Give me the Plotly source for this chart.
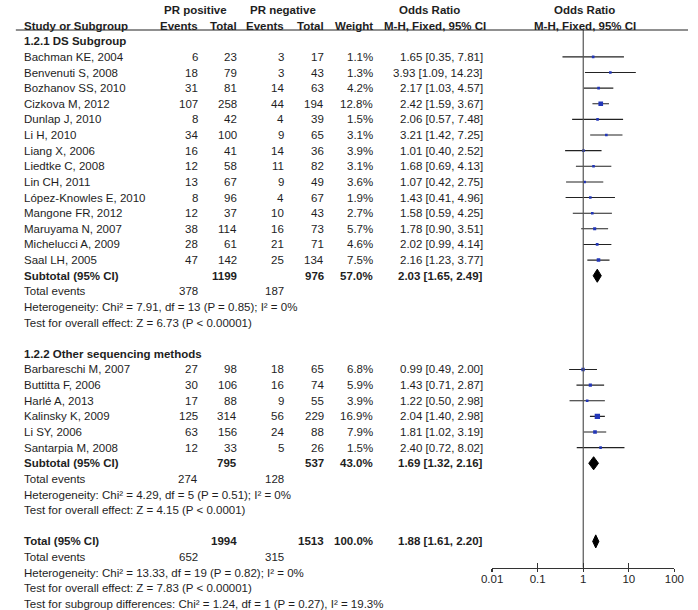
import plotly.graph_objects as go

W, H = 698, 610
ROW_PX = 15.63
TOP_PX = 10

# ---------------- data ----------------
names1 = ["Bachman KE, 2004", "Benvenuti S, 2008", "Bozhanov SS, 2010", "Cizkova M, 2012",
          "Dunlap J, 2010", "Li H, 2010", "Liang X, 2006", "Liedtke C, 2008", "Lin CH, 2011",
          "López-Knowles E, 2010", "Mangone FR, 2012", "Maruyama N, 2007",
          "Michelucci A, 2009", "Saal LH, 2005"]
pos_events1 = [6, 18, 31, 107, 8, 34, 16, 12, 13, 8, 12, 38, 28, 47]
pos_total1 = [23, 79, 81, 258, 42, 100, 41, 58, 67, 96, 37, 114, 61, 142]
neg_events1 = [3, 3, 14, 44, 4, 9, 14, 11, 9, 4, 10, 16, 21, 25]
neg_total1 = [17, 43, 63, 194, 39, 65, 36, 82, 49, 67, 43, 73, 71, 134]
weight1 = [1.1, 1.3, 4.2, 12.8, 1.5, 3.1, 3.9, 3.1, 3.6, 1.9, 2.7, 5.7, 4.6, 7.5]
or1 = [1.65, 3.93, 2.17, 2.42, 2.06, 3.21, 1.01, 1.68, 1.07, 1.43, 1.58, 1.78, 2.02, 2.16]
lo1 = [0.35, 1.09, 1.03, 1.59, 0.57, 1.42, 0.40, 0.69, 0.42, 0.41, 0.59, 0.90, 0.99, 1.23]
hi1 = [7.81, 14.23, 4.57, 3.67, 7.48, 7.25, 2.52, 4.13, 2.75, 4.96, 4.25, 3.51, 4.14, 3.77]

names2 = ["Barbareschi M, 2007", "Buttitta F, 2006", "Harlé A, 2013", "Kalinsky K, 2009",
          "Li SY, 2006", "Santarpia M, 2008"]
pos_events2 = [27, 30, 17, 125, 63, 12]
pos_total2 = [98, 106, 88, 314, 156, 33]
neg_events2 = [18, 16, 9, 56, 24, 5]
neg_total2 = [65, 74, 55, 229, 88, 26]
weight2 = [6.8, 5.9, 3.9, 16.9, 7.9, 1.5]
or2 = [0.99, 1.43, 1.22, 2.04, 1.81, 2.40]
lo2 = [0.49, 0.71, 0.50, 1.40, 1.02, 0.72]
hi2 = [2.00, 2.87, 2.98, 2.98, 3.19, 8.02]

group_titles = ["1.2.1 DS Subgroup", "1.2.2 Other sequencing methods"]
sub_pos_total = [1199, 795]
sub_neg_total = [976, 537]
sub_weight = [57.0, 43.0]
sub_or = [2.03, 1.69]
sub_lo = [1.65, 1.32]
sub_hi = [2.49, 2.16]
sub_pos_events = [378, 274]
sub_neg_events = [187, 128]
sub_het = ["Heterogeneity: Chi² = 7.91, df = 13 (P = 0.85); I² = 0%",
           "Heterogeneity: Chi² = 4.29, df = 5 (P = 0.51); I² = 0%"]
sub_test = ["Test for overall effect: Z = 6.73 (P < 0.00001)",
            "Test for overall effect: Z = 4.15 (P < 0.0001)"]

tot_pos_total, tot_neg_total, tot_weight = 1994, 1513, 100.0
tot_or, tot_lo, tot_hi = 1.88, 1.61, 2.20
tot_pos_events, tot_neg_events = 652, 315
tot_het = "Heterogeneity: Chi² = 13.33, df = 19 (P = 0.82); I² = 0%"
tot_test = "Test for overall effect: Z = 7.83 (P < 0.00001)"
sub_diff = "Test for subgroup differences: Chi² = 1.24, df = 1 (P = 0.27), I² = 19.3%"

tick_vals = [0.01, 0.1, 1, 10, 100]
tick_text = ["0.01", "0.1", "1", "10", "100"]

# ---------------- layout constants ----------------
FONT = "Liberation Sans, Arial, Helvetica, sans-serif"
FS = 11.5
TXT = "#1e1e1e"
BLUE = "#2236b8"
X_NAME = 13
X_PE, X_PT, X_NE, X_NT, X_W, X_OR = 193, 233, 281, 323, 373, 487
X_AX0, X_AX1 = 496, 684
AXIS_Y_PX = 567.5
HEAD_LINE_PX = 30


def row_of_px(p):
    return (p - TOP_PX) / ROW_PX


annotations = []


def txt(row, xpx, s, anchor="right", bold=False):
    annotations.append(dict(
        x=xpx / W, xref="paper", y=row, yref="y", text=f"<b>{s}</b>" if bold else s,
        showarrow=False, xanchor=anchor, yanchor="middle",
        font=dict(family=FONT, size=FS, color=TXT), borderpad=0, borderwidth=0))


fig = go.Figure()

# headers
txt(0, 190, "PR positive", "center", True)
txt(0, 280, "PR negative", "center", True)
txt(0, 431, "Odds Ratio", "center", True)
txt(0, 591, "Odds Ratio", "center", True)
txt(1, X_NAME, "Study or Subgroup", "left", True)
for xp, s in [(X_PE, "Events"), (X_PT, "Total"), (X_NE, "Events"), (X_NT, "Total"), (X_W, "Weight")]:
    txt(1, xp, s, "right", True)
txt(1, 437, "M-H, Fixed, 95% CI", "center", True)
txt(1, 592, "M-H, Fixed, 95% CI", "center", True)

groups = [
    (names1, pos_events1, pos_total1, neg_events1, neg_total1, weight1, or1, lo1, hi1),
    (names2, pos_events2, pos_total2, neg_events2, neg_total2, weight2, or2, lo2, hi2),
]


def diamond(row, est, lo, hi):
    h = 0.42
    fig.add_trace(go.Scatter(
        x=[lo, est, hi, est, lo], y=[row, row - h, row, row + h, row],
        mode="lines", fill="toself", fillcolor="black",
        line=dict(color="black", width=1), hoverinfo="skip", showlegend=False))


row = 2
for g, (nm, pe, pt, ne, nt, w, orv, lo, hi) in enumerate(groups):
    txt(row, X_NAME, group_titles[g], "left", True)
    row += 1
    for i in range(len(nm)):
        txt(row, X_NAME, nm[i], "left")
        txt(row, X_PE, str(pe[i]))
        txt(row, X_PT, str(pt[i]))
        txt(row, X_NE, str(ne[i]))
        txt(row, X_NT, str(nt[i]))
        txt(row, X_W, f"{w[i]:.1f}%")
        txt(row, X_OR, f"{orv[i]:.2f} [{lo[i]:.2f}, {hi[i]:.2f}]")
        fig.add_trace(go.Scatter(
            x=[lo[i], hi[i]], y=[row, row], mode="lines",
            line=dict(color="#222", width=1.1), hoverinfo="skip", showlegend=False))
        fig.add_trace(go.Scatter(
            x=[orv[i]], y=[row], mode="markers",
            marker=dict(symbol="square", color=BLUE,
                        size=max(2.6, 1.3 * w[i] ** 0.5), line=dict(width=0)),
            hoverinfo="skip", showlegend=False))
        row += 1
    txt(row, X_NAME, "Subtotal (95% CI)", "left", True)
    txt(row, X_PT, str(sub_pos_total[g]), bold=True)
    txt(row, X_NT, str(sub_neg_total[g]), bold=True)
    txt(row, X_W, f"{sub_weight[g]:.1f}%", bold=True)
    txt(row, X_OR, f"{sub_or[g]:.2f} [{sub_lo[g]:.2f}, {sub_hi[g]:.2f}]", bold=True)
    diamond(row, sub_or[g], sub_lo[g], sub_hi[g])
    row += 1
    txt(row, X_NAME, "Total events", "left")
    txt(row, X_PE, str(sub_pos_events[g]))
    txt(row, X_NE, str(sub_neg_events[g]))
    row += 1
    txt(row, X_NAME, sub_het[g], "left")
    row += 1
    txt(row, X_NAME, sub_test[g], "left")
    row += 2

txt(row, X_NAME, "Total (95% CI)", "left", True)
txt(row, X_PT, str(tot_pos_total), bold=True)
txt(row, X_NT, str(tot_neg_total), bold=True)
txt(row, X_W, f"{tot_weight:.1f}%", bold=True)
txt(row, X_OR, f"{tot_or:.2f} [{tot_lo:.2f}, {tot_hi:.2f}]", bold=True)
diamond(row, tot_or, tot_lo, tot_hi)
row += 1
txt(row, X_NAME, "Total events", "left")
txt(row, X_PE, str(tot_pos_events))
txt(row, X_NE, str(tot_neg_events))
row += 1
txt(row, X_NAME, tot_het, "left")
row += 1
txt(row, X_NAME, tot_test, "left")
row += 1
txt(row, X_NAME, sub_diff, "left")

# vertical line of no effect (on overlay axis, same scale)
fig.add_trace(go.Scatter(
    x=[1, 1], y=[row_of_px(HEAD_LINE_PX), row_of_px(AXIS_Y_PX)], mode="lines",
    line=dict(color="#555", width=1.2), hoverinfo="skip", showlegend=False,
    xaxis="x2", yaxis="y"))

axis_pos = 1 - AXIS_Y_PX / H
dom = [X_AX0 / W, X_AX1 / W]
fig.update_layout(
    width=W, height=H, margin=dict(l=0, r=0, t=0, b=0),
    paper_bgcolor="white", plot_bgcolor="white",
    annotations=annotations,
    shapes=[dict(type="line", xref="paper", yref="y", x0=5 / W, x1=1,
                 y0=row_of_px(HEAD_LINE_PX), y1=row_of_px(HEAD_LINE_PX),
                 line=dict(color="#222", width=1.2))],
    xaxis=dict(type="log", range=[-2, 2], domain=dom, anchor="free", position=axis_pos,
               showline=True, linecolor="#333", linewidth=1.2, ticks="inside", ticklen=5,
               tickwidth=1.2, tickcolor="#333", tickvals=tick_vals, ticktext=tick_text,
               showgrid=False, zeroline=False,
               tickfont=dict(family=FONT, size=FS, color=TXT)),
    xaxis2=dict(type="log", range=[-2, 2], overlaying="x", anchor="free", position=axis_pos,
                side="bottom", showline=False, ticks="outside", ticklen=3, tickwidth=1.2,
                tickcolor="#333", tickvals=tick_vals, showticklabels=False,
                showgrid=False, zeroline=False),
    yaxis=dict(range=[row_of_px(H), row_of_px(0)], domain=[0, 1], visible=False,
               showgrid=False, zeroline=False),
)

fig.write_html("out.html", config={"displayModeBar": False, "staticPlot": True},
               post_script="document.body.style.margin='0';document.body.style.overflow='hidden';")
